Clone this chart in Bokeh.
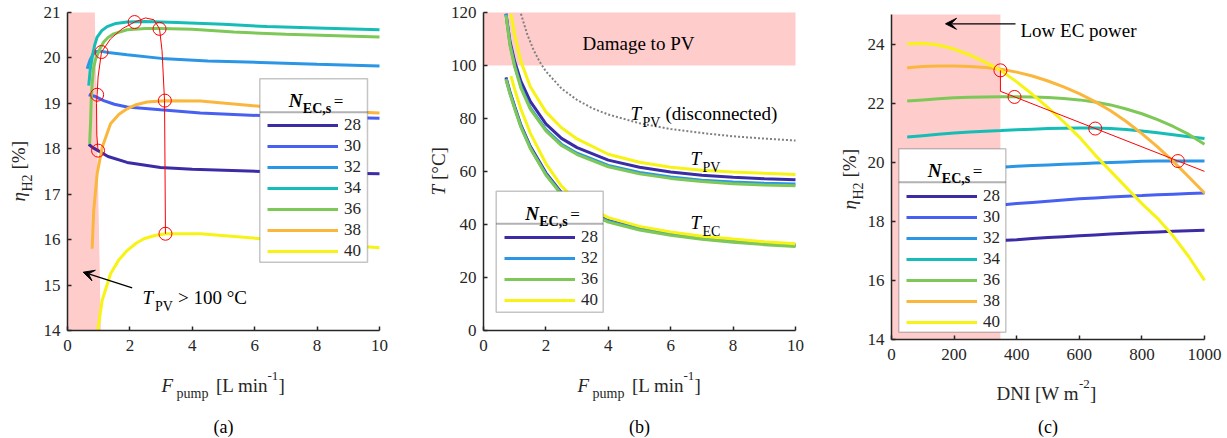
from bokeh.plotting import figure
from bokeh.layouts import row
from bokeh.models import (Range1d, Label, Legend, LegendItem, BoxAnnotation,
                          Arrow, VeeHead, FixedTicker)
from bokeh.embed import file_html
from bokeh.resources import INLINE

FONT = "Liberation Serif"
INK = "#262626"
PINK = "#FFCCCC"
H = 438

# ---------------- data ----------------
n_labels = ["28", "30", "32", "34", "36", "38", "40"]
n_colors = ["#3B2CA6", "#4760F2", "#2B96E6", "#16BDB6", "#7DC857", "#FBB73D", "#F7F315"]

# panel (a): eta_H2 vs F_pump
a_xticks = [0, 2, 4, 6, 8, 10]
a_yticks = [14, 15, 16, 17, 18, 19, 20, 21]
a28_x = [0.68, 0.80, 0.98, 1.3, 1.91, 2.98, 4.0, 6.19, 8.0, 10.0]
a28_y = [18.10, 18.03, 17.96, 17.83, 17.70, 17.59, 17.55, 17.50, 17.47, 17.45]
a30_x = [0.68, 0.9, 1.16, 1.5, 1.91, 2.98, 4.26, 6.19, 8.0, 10.0]
a30_y = [19.19, 19.15, 19.06, 18.98, 18.92, 18.86, 18.79, 18.73, 18.70, 18.67]
a32_x = [0.63, 0.72, 0.82, 0.92, 1.05, 1.3, 1.91, 3.0, 4.5, 6.19, 8.0, 10.0]
a32_y = [19.76, 19.95, 20.08, 20.14, 20.15, 20.12, 20.07, 19.99, 19.93, 19.90, 19.86, 19.82]
a34_x = [0.68, 0.73, 0.79, 0.87, 0.95, 1.1, 1.27, 1.55, 1.91, 2.5, 3.5, 5.0, 6.39, 8.0, 10.0]
a34_y = [19.39, 19.75, 20.02, 20.28, 20.46, 20.60, 20.69, 20.76, 20.79, 20.80, 20.78, 20.74, 20.69, 20.66, 20.62]
a36_x = [0.71, 0.74, 0.76, 0.79, 0.84, 0.90, 0.97, 1.06, 1.16, 1.30, 1.48, 1.91, 2.5, 2.98, 4.0, 5.33, 7.0, 10.0]
a36_y = [18.11, 18.60, 19.06, 19.43, 19.80, 19.97, 20.09, 20.23, 20.35, 20.45, 20.53, 20.62, 20.65, 20.65, 20.63, 20.57, 20.52, 20.46]
a38_x = [0.79, 0.84, 0.95, 1.11, 1.38, 1.65, 1.91, 2.2, 2.55, 3.12, 4.26, 6.39, 8.0, 10.0]
a38_y = [15.80, 16.64, 17.45, 18.03, 18.55, 18.76, 18.88, 18.97, 19.03, 19.06, 19.05, 18.92, 18.85, 18.79]
a40_x = [0.97, 1.11, 1.38, 1.65, 1.91, 2.2, 2.45, 2.8, 3.14, 4.26, 6.19, 8.0, 10.0]
a40_y = [14.00, 14.66, 15.25, 15.56, 15.76, 15.92, 16.02, 16.09, 16.13, 16.13, 16.02, 15.92, 15.82]
a_opt_x = [0.98, 0.95, 1.09, 2.15, 2.95, 3.12, 3.14]
a_opt_y = [17.96, 19.19, 20.13, 20.79, 20.64, 19.06, 16.13]
a_path_x = [0.98, 0.94, 0.93, 0.95, 0.98, 1.09, 1.38, 1.75, 2.15, 2.5, 2.77, 2.95, 3.03, 3.11, 3.14]
a_path_y = [17.96, 18.30, 19.00, 19.19, 19.58, 20.13, 20.42, 20.64, 20.79, 20.88, 20.84, 20.64, 20.16, 19.06, 16.13]
a_shade_x = [0, 1.07, 0.875, 0]
a_shade_y = [14, 14, 21, 21]

# panel (b): temperatures vs F_pump
b_xticks = [0, 2, 4, 6, 8, 10]
b_yticks = [0, 20, 40, 60, 80, 100, 120]
b_labels = ["28", "32", "36", "40"]
b_colors = ["#3B2CA6", "#2B96E6", "#7DC857", "#F7F315"]
b_x = [0.72, 0.85, 1.0, 1.2, 1.5, 2.0, 2.5, 3.0, 4.0, 5.0, 6.0, 7.0, 8.0, 9.0, 10.0]
b_x40 = [0.88, 1.0, 1.2, 1.5, 2.0, 2.5, 3.0, 4.0, 5.0, 6.0, 7.0, 8.0, 9.0, 10.0]
b_pv28 = [119.5, 109.0, 101.5, 94.0, 86.5, 78.0, 72.5, 69.0, 64.3, 61.6, 59.8, 58.6, 57.8, 57.3, 56.9]
b_pv32 = [119.5, 108.0, 100.0, 92.0, 84.0, 75.8, 70.3, 66.9, 62.3, 59.6, 57.9, 56.7, 56.0, 55.6, 55.3]
b_pv36 = [119.0, 107.5, 99.5, 91.5, 83.5, 75.3, 69.8, 66.4, 61.8, 59.1, 57.4, 56.2, 55.4, 54.9, 54.6]
b_pv40 = [119.5, 111.5, 101.5, 92.0, 82.5, 76.5, 72.3, 66.5, 63.5, 61.6, 60.5, 59.8, 59.3, 58.9]
b_ec28 = [95.5, 90.0, 84.5, 77.5, 69.5, 59.5, 52.0, 47.0, 41.5, 38.5, 36.5, 35.0, 34.0, 33.1, 32.3]
b_ec32 = [95.0, 89.5, 84.0, 77.0, 69.0, 59.0, 51.6, 46.6, 41.2, 38.2, 36.2, 34.7, 33.6, 32.7, 32.0]
b_ec36 = [94.8, 89.2, 83.7, 76.7, 68.7, 58.7, 51.3, 46.3, 40.9, 37.9, 35.9, 34.4, 33.3, 32.4, 31.7]
b_ec40 = [96.0, 91.0, 83.5, 74.5, 63.0, 54.5, 48.7, 42.6, 39.3, 37.2, 35.6, 34.5, 33.5, 32.7]
b_dis_x = [1.2, 1.4, 1.6, 1.8, 2.0, 2.5, 3.0, 3.5, 4.0, 5.0, 6.0, 7.0, 8.0, 9.0, 10.0]
b_dis_y = [119.5, 111.8, 106.0, 101.4, 97.8, 91.3, 87.0, 83.8, 81.5, 78.2, 76.0, 74.5, 73.3, 72.4, 71.7]
b_shade_x = [0, 10]
b_shade_y = [100, 120]

# panel (c): eta_H2 vs DNI
c_xticks = [0, 200, 400, 600, 800, 1000]
c_yticks = [14, 16, 18, 20, 22, 24]
c_x = [50, 100, 150, 200, 250, 300, 350, 400, 450, 500, 550, 600, 650, 700, 750, 800, 850, 900, 950, 1000]
c28 = [17.10, 17.15, 17.19, 17.23, 17.27, 17.31, 17.35, 17.38, 17.42, 17.45, 17.48, 17.51, 17.54, 17.57, 17.60, 17.62, 17.64, 17.66, 17.68, 17.70]
c30 = [18.30, 18.34, 18.38, 18.42, 18.46, 18.50, 18.55, 18.60, 18.64, 18.68, 18.72, 18.76, 18.79, 18.82, 18.85, 18.87, 18.90, 18.92, 18.94, 18.96]
c32 = [19.62, 19.66, 19.70, 19.74, 19.77, 19.80, 19.83, 19.86, 19.89, 19.91, 19.93, 19.95, 19.97, 19.99, 20.01, 20.03, 20.04, 20.04, 20.04, 20.04]
c34 = [20.85, 20.90, 20.95, 20.99, 21.02, 21.05, 21.07, 21.10, 21.12, 21.14, 21.15, 21.16, 21.16, 21.14, 21.11, 21.06, 21.00, 20.93, 20.86, 20.80]
c36 = [22.07, 22.11, 22.15, 22.18, 22.20, 22.21, 22.22, 22.22, 22.21, 22.19, 22.16, 22.11, 22.04, 21.94, 21.80, 21.64, 21.44, 21.21, 20.94, 20.61]
c38 = [23.20, 23.24, 23.26, 23.26, 23.24, 23.21, 23.15, 23.05, 22.92, 22.75, 22.55, 22.32, 22.05, 21.74, 21.38, 20.97, 20.52, 20.03, 19.50, 18.96]
c40 = [24.01, 24.03, 23.97, 23.83, 23.63, 23.38, 23.10, 22.72, 22.30, 21.85, 21.37, 20.85, 20.25, 19.70, 19.15, 18.60, 18.10, 17.50, 16.80, 16.00]
c_opt_x = [348, 393, 651, 915]
c_opt_y = [23.11, 22.21, 21.14, 20.04]
c_path_x = [348, 348, 1000]
c_path_y = [23.11, 22.40, 19.69]
c_shade_x = [0, 348]
c_shade_y = [14, 25]


# ---------------- helpers ----------------
def mapper(L, T, R, B, xr, yr):
    def fx(px):
        return xr[0] + (px - L) * (xr[1] - xr[0]) / (R - L)

    def fy(py):
        return yr[0] + (B - py) * (yr[1] - yr[0]) / (B - T)
    return fx, fy


def make_fig(F, W, L, T, R, B, xr, yr, xt, yt):
    """Figure whose frame spans the whole canvas; the data box (L,T,R,B) is drawn with
    axes at fixed locations so that text outside the data box is not clipped."""
    fx, fy = mapper(L, T, R, B, xr, yr)
    p = figure(width=W, height=H, x_range=Range1d(fx(F), fx(F + W)), y_range=Range1d(fy(H), fy(0)),
               output_backend="svg", toolbar_location=None,
               min_border_left=0, min_border_right=0, min_border_top=0, min_border_bottom=0)
    p.outline_line_color = None
    p.grid.visible = False
    p.background_fill_color = "white"
    p.border_fill_color = "white"
    p.xaxis.fixed_location = yr[0]
    p.yaxis.fixed_location = xr[0]
    p.xaxis.bounds = xr
    p.yaxis.bounds = yr
    for ax in (p.xaxis[0], p.yaxis[0]):
        ax.axis_line_color = INK
        ax.axis_line_width = 1.5
        ax.major_tick_line_color = INK
        ax.major_tick_line_width = 1.5
        ax.major_tick_in = 4
        ax.major_tick_out = 0
        ax.minor_tick_in = 0
        ax.minor_tick_out = 0
        ax.major_label_text_font = FONT
        ax.major_label_text_font_size = "17px"
        ax.major_label_text_color = INK
    p.xaxis.ticker = FixedTicker(ticks=xt)
    p.yaxis.ticker = FixedTicker(ticks=yt)
    p.xaxis.major_label_standoff = 9
    p.yaxis.major_label_standoff = 7
    return p, fx, fy


def rich(p, fx, fy, x0, y0, pieces, angle=0.0, color=INK):
    """pieces: (text, size, style, advance_px, shift_px) ; shift>0 moves down (subscript)"""
    pos = 0.0
    for text, size, style, adv, dy in pieces:
        if angle == 0:
            px, py = x0 + pos, y0 + dy
        else:
            px, py = x0 + dy, y0 - pos
        p.add_layout(Label(x=fx(px), y=fy(py), text=text, angle=angle,
                           text_font=FONT, text_font_size=f"{size}px",
                           text_font_style=style, text_color=color,
                           text_align="left", text_baseline="alphabetic"))
        pos += adv


def legend_box(p, fx, fy, F, box, renderers, labels, first_center):
    bl, br, bt, bs, bb = box
    p.add_layout(BoxAnnotation(left=fx(bl), right=fx(br), top=fy(bt), bottom=fy(bb),
                               fill_color="white", fill_alpha=1.0,
                               line_color="#404040", line_width=1.5))
    p.add_layout(BoxAnnotation(left=fx(bl), right=fx(br), top=fy(bs), bottom=fy(bs),
                               fill_alpha=0, line_color="black", line_width=2))
    n = len(labels)
    h, sp = 20, 1
    top = first_center - h / 2
    bottom = top + n * h + (n - 1) * sp
    leg = Legend(items=[LegendItem(label=lab, renderers=[r]) for lab, r in zip(labels, renderers)],
                 location=(round(bl + 8 - F), round(H - bottom)),
                 glyph_width=71, glyph_height=h, label_height=h, spacing=sp,
                 padding=0, margin=0, label_standoff=6,
                 label_text_font=FONT, label_text_font_size="17px", label_text_color=INK,
                 border_line_color=None, background_fill_alpha=0)
    p.add_layout(leg)
    rich(p, fx, fy, bl + 29, bt + 22, [
        ("N", 19, "bold italic", 14, 0),
        ("EC,s", 14, "bold", 31, 8),
    ], color="black")
    rich(p, fx, fy, bl + 74, bt + 23, [("=", 17, "normal", 10, 0)], color="black")


def xlabel_fpump(p, fx, fy, x0, y0):
    rich(p, fx, fy, x0, y0, [("F", 19, "italic", 15, 0), ("pump", 14, "normal", 39.5, 8),
                             ("[L min", 19, "normal", 51.5, 0), ("-1", 13, "normal", 11, -10),
                             ("]", 19, "normal", 7, 0)])


def ylabel_eta(p, fx, fy, x0, y0):
    rich(p, fx, fy, x0, y0, [("η", 19, "italic", 10, 0), ("H2", 14, "normal", 22, 9),
                             ("[%]", 19, "normal", 30, 0)], angle=1.5707963)


def caption(p, fx, fy, x, text):
    p.add_layout(Label(x=fx(x), y=fy(426), text=text, text_font=FONT, text_font_size="18px",
                       text_color="black", text_align="center", text_baseline="alphabetic"))


# ---------------- panel (a) ----------------
pa, fxa, fya = make_fig(0, 415, 67, 12, 379, 330, (0, 10), (14, 21), a_xticks, a_yticks)
pa.patch(a_shade_x, a_shade_y, fill_color=PINK, line_color=None)
a_series = [(a28_x, a28_y), (a30_x, a30_y), (a32_x, a32_y), (a34_x, a34_y),
            (a36_x, a36_y), (a38_x, a38_y), (a40_x, a40_y)]
ra = [pa.line(xs, ys, line_color=c, line_width=3) for (xs, ys), c in zip(a_series, n_colors)]
pa.line(a_path_x, a_path_y, line_color="red", line_width=1)
pa.scatter(a_opt_x, a_opt_y, marker="circle", size=13, fill_color=None, line_color="red", line_width=1)
pa.add_layout(Arrow(x_start=fxa(131.7), y_start=fya(287.3), x_end=fxa(82.7), y_end=fya(271.7),
                    line_color="black", line_width=1.3,
                    end=VeeHead(size=11, fill_color="black", line_color="black", line_width=1)))
rich(pa, fxa, fya, 142, 297, [("T", 19, "italic", 12.5, 0), ("PV", 14, "normal", 23, 9),
                             ("> 100 °C", 19, "normal", 60, 0)], color="black")
legend_box(pa, fxa, fya, 0, (259.3, 367, 78.3, 111.7, 261.7), ra, n_labels, 125)
xlabel_fpump(pa, fxa, fya, 161, 385)
ylabel_eta(pa, fxa, fya, 18, 201)
caption(pa, fxa, fya, 223, "(a)")

# ---------------- panel (b) ----------------
pb, fxb, fyb = make_fig(415, 408, 483, 12, 795, 330, (0, 10), (0, 120), b_xticks, b_yticks)
pb.quad(left=b_shade_x[0], right=b_shade_x[1], bottom=b_shade_y[0], top=b_shade_y[1], fill_color=PINK, line_color=None)
pb.line(b_dis_x, b_dis_y, line_color="#808080", line_width=2, line_dash="2 2")
b_pv = [(b_x, b_pv28), (b_x, b_pv32), (b_x, b_pv36), (b_x40, b_pv40)]
b_ec = [(b_x, b_ec28), (b_x, b_ec32), (b_x, b_ec36), (b_x40, b_ec40)]
rb = []
for (xs, ys), c in zip(b_pv, b_colors):
    rb.append(pb.line(xs, ys, line_color=c, line_width=3))
for (xs, ys), c in zip(b_ec, b_colors):
    pb.line(xs, ys, line_color=c, line_width=3)
pb.add_layout(Label(x=fxb(638), y=fyb(43), text="Damage to PV", text_font=FONT, text_font_size="19px",
                    text_color="black", text_align="center", text_baseline="alphabetic"))
rich(pb, fxb, fyb, 630, 113, [("T", 19, "italic", 12, 0), ("PV", 14, "normal", 23, 9),
                             ("(disconnected)", 19, "normal", 120, 0)], color="black")
rich(pb, fxb, fyb, 690, 158, [("T", 19, "italic", 12, 0), ("PV", 14, "normal", 18, 9)], color="black")
rich(pb, fxb, fyb, 690, 222, [("T", 19, "italic", 12, 0), ("EC", 14, "normal", 18, 9)], color="black")
legend_box(pb, fxb, fyb, 415, (495.7, 602.7, 190.7, 223.3, 311.7), rb, b_labels, 237.3)
xlabel_fpump(pb, fxb, fyb, 577, 385)
rich(pb, fxb, fyb, 438, 195, [("T", 19, "italic", 15.5, 0), ("[°C]", 19, "normal", 34, 0)], angle=1.5707963)
caption(pb, fxb, fyb, 639, "(b)")

# ---------------- panel (c) ----------------
pc, fxc, fyc = make_fig(823, 404, 891, 14, 1204, 339, (0, 1000), (14, 25), c_xticks, c_yticks)
pc.quad(left=c_shade_x[0], right=c_shade_x[1], bottom=c_shade_y[0], top=c_shade_y[1], fill_color=PINK, line_color=None)
c_series = [c28, c30, c32, c34, c36, c38, c40]
rc = [pc.line(c_x, ys, line_color=c, line_width=3) for ys, c in zip(c_series, n_colors)]
pc.line(c_path_x, c_path_y, line_color="red", line_width=1)
pc.scatter(c_opt_x, c_opt_y, marker="circle", size=13, fill_color=None, line_color="red", line_width=1)
pc.add_layout(Arrow(x_start=fxc(1015), y_start=fyc(23.3), x_end=fxc(945), y_end=fyc(23.3),
                    line_color="black", line_width=1.3,
                    end=VeeHead(size=11, fill_color="black", line_color="black", line_width=1)))
pc.add_layout(Label(x=fxc(1020), y=fyc(30), text="Low EC power", text_font=FONT, text_font_size="19px",
                    text_color="black", text_align="left", text_baseline="alphabetic"))
legend_box(pc, fxc, fyc, 823, (898.3, 1005.3, 148.3, 181.7, 331.7), rc, n_labels, 196)
rich(pc, fxc, fyc, 996, 393, [("DNI [W m", 19, "normal", 82.5, 0), ("-2", 13, "normal", 11, -10),
                             ("]", 19, "normal", 7, 0)])
ylabel_eta(pc, fxc, fyc, 849, 209)
caption(pc, fxc, fyc, 1047.5, "(c)")

layout = row(pa, pb, pc)
open("out.html", "w").write(file_html(layout, INLINE))
